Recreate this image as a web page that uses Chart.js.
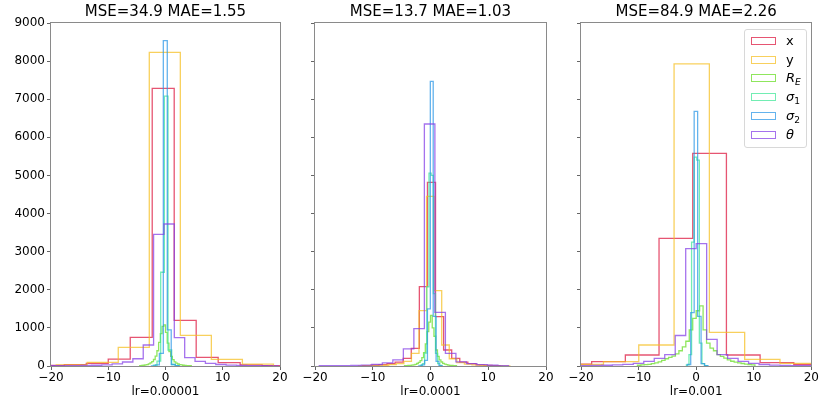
<!DOCTYPE html>
<html>
<head>
<meta charset="utf-8">
<script src="https://cdn.jsdelivr.net/npm/chart.js@4.4.1/dist/chart.umd.min.js"></script>
<style>
  body { margin: 0; background: #fff; font-family: 'DejaVu Sans', sans-serif; }
  #wrap { position: relative; width: 820px; height: 403px; overflow: hidden; }
  .panel { position: absolute; top: 0; }
  .legend {
    position: absolute; left: 744px; top: 29px; width: 61px; height: 117px;
    border: 1px solid #d8d8d8; border-radius: 3px; background: rgba(255,255,255,0.8);
    font-size: 13px; color: #000;
  }
  .legend .row { position: absolute; left: 0; height: 16px; line-height: 16px; }
  .legend .sw { position: absolute; left: 6px; top: 4px; width: 23px; height: 6px; border: 1.3px solid; }
  .legend .lb { position: absolute; left: 41px; top: 0; white-space: nowrap; }
  .legend sub { font-size: 70%; vertical-align: -0.3em; line-height: 0; }
</style>
</head>
<body>
<div id="wrap">
  <div class="panel" style="left:0px"><canvas id="c1" width="290" height="403"></canvas></div>
  <div class="panel" style="left:290px"><canvas id="c2" width="266" height="403"></canvas></div>
  <div class="panel" style="left:556px"><canvas id="c3" width="264" height="403"></canvas></div>
  <div class="legend" id="legend"></div>
</div>
<script>
// titles and axis labels
const panelTitles = ['MSE=34.9 MAE=1.55', 'MSE=13.7 MAE=1.03', 'MSE=84.9 MAE=2.26'];
const panelXLabels = ['lr=0.00001', 'lr=0.0001', 'lr=0.001'];
const xTicks = [-20, -10, 0, 10, 20];
const yTicks = [0, 1000, 2000, 3000, 4000, 5000, 6000, 7000, 8000, 9000];
const seriesNames = ['x', 'y', 'R_E', 'σ1', 'σ2', 'θ'];
const legendLabels = ['x', 'y', '<i>R</i><sub><i>E</i></sub>', '<i>σ</i><sub>1</sub>', '<i>σ</i><sub>2</sub>', '<i>θ</i>'];

// histograms: span = [first bin edge, last bin edge], counts = equal-width bins

// panel 1, lr=0.00001
const p1_x_span = [-21.52, 20.72];
const p1_x_counts = [15, 35, 70, 181, 753, 7285, 1199, 228, 87, 30, 10];
const p1_y_span = [-19.09, 18.85];
const p1_y_counts = [28, 97, 490, 8230, 806, 175, 50];
const p1_re_span = [-4.5, 4.5];
const p1_re_counts = [10, 14, 20, 28, 38, 55, 80, 115, 170, 260, 400, 620, 850, 1040, 1080,
                      880, 600, 380, 250, 165, 110, 75, 52, 38, 28, 20, 15, 11, 8, 6];
const p1_s1_span = [-2.12, 2.36];
const p1_s1_counts = [20, 130, 2460, 7080, 420, 40, 8];
const p1_s2_span = [-2.45, 2.38];
const p1_s2_counts = [5, 30, 330, 8540, 950, 40, 6];
const p1_th_span = [-20.18, 19.64];
const p1_th_counts = [8, 10, 12, 15, 20, 28, 55, 105, 190, 551, 3456, 3726, 743, 218, 120, 70, 40, 25, 15, 10, 6, 4];

// panel 2, lr=0.0001
const p2_x_span = [-11.73, 12.07];
const p2_x_counts = [12, 20, 35, 60, 100, 201, 464, 2081, 4820, 1294, 420, 200, 100, 60, 30, 15, 8];
const p2_y_span = [-12.47, 13.73];
const p2_y_counts = [5, 8, 12, 20, 35, 60, 120, 332, 1452, 4450, 1976, 551, 190, 90, 50, 30, 18, 12, 8, 5];
const p2_re_span = [-4.5, 4.5];
const p2_re_counts = [8, 10, 14, 18, 24, 32, 45, 65, 95, 140, 220, 350, 580, 900, 1150,
                      1330, 1000, 780, 420, 250, 160, 105, 70, 48, 34, 24, 18, 13, 10, 7];
const p2_s1_span = [-1.76, 1.99];
const p2_s1_counts = [20, 60, 340, 2080, 5060, 5000, 1900, 330, 60, 15];
const p2_s2_span = [-2.03, 1.97];
const p2_s2_counts = [5, 30, 150, 1500, 7470, 1300, 120, 10];
const p2_th_span = [-19.26, 13.5];
const p2_th_counts = [10, 10, 12, 18, 25, 40, 80, 160, 450, 980, 6350, 1408, 332, 110, 60, 35, 20, 12];

// panel 3, lr=0.001
const p3_x_span = [-24.0, 22.8];
const p3_x_counts = [50, 113, 289, 3351, 5581, 289, 87, 40];
const p3_y_span = [-22.23, 20.68];
const p3_y_counts = [40, 113, 551, 7925, 884, 175, 70];
const p3_re_span = [-10.2, 10.2];
const p3_re_counts = [20, 28, 35, 45, 60, 80, 110, 150, 190, 225, 260, 320, 400, 500, 650, 950, 1250,
                      1450, 1580, 950, 600, 470, 400, 300, 250, 205, 160, 125, 100, 80, 65, 50, 40, 30];
const p3_s1_span = [-1.7, 1.9];
const p3_s1_counts = [30, 300, 3250, 5480, 5400, 600, 60, 10];
const p3_s2_span = [-1.55, 2.05];
const p3_s2_counts = [40, 1400, 6680, 1300, 60, 8];
const p3_th_span = [-20.02, 20.02];
const p3_th_counts = [12, 15, 20, 30, 45, 70, 120, 200, 300, 800, 3080, 3210, 700, 300, 200, 120, 70, 40, 25, 15, 10, 8];

const panels = [
  [[p1_x_span, p1_x_counts], [p1_y_span, p1_y_counts], [p1_re_span, p1_re_counts],
   [p1_s1_span, p1_s1_counts], [p1_s2_span, p1_s2_counts], [p1_th_span, p1_th_counts]],
  [[p2_x_span, p2_x_counts], [p2_y_span, p2_y_counts], [p2_re_span, p2_re_counts],
   [p2_s1_span, p2_s1_counts], [p2_s2_span, p2_s2_counts], [p2_th_span, p2_th_counts]],
  [[p3_x_span, p3_x_counts], [p3_y_span, p3_y_counts], [p3_re_span, p3_re_counts],
   [p3_s1_span, p3_s1_counts], [p3_s2_span, p3_s2_counts], [p3_th_span, p3_th_counts]]
];

const colors = [
  'rgba(220, 20, 60, 0.72)',
  'rgba(245, 190, 30, 0.72)',
  'rgba(100, 220, 30, 0.72)',
  'rgba(60, 230, 150, 0.72)',
  'rgba(40, 150, 230, 0.72)',
  'rgba(130, 60, 230, 0.72)'
];

// outline of a step histogram, as matplotlib's histtype='step'
function stepPoints(span, counts) {
  const w = (span[1] - span[0]) / counts.length;
  const pts = [{x: span[0], y: 0}];
  counts.forEach((c, i) => pts.push({x: span[0] + i * w, y: c}));
  pts.push({x: span[1], y: 0});
  return pts;
}

const framePlugin = {
  id: 'frame',
  afterDatasetsDraw(chart) {
    const a = chart.chartArea;
    const ctx = chart.ctx;
    ctx.save();
    ctx.strokeStyle = '#8a8a8a';
    ctx.lineWidth = 1;
    ctx.strokeRect(Math.round(a.left) - 0.5, Math.round(a.top) - 0.5,
                   Math.round(a.right - a.left) + 1, Math.round(a.bottom - a.top) + 1);
    ctx.restore();
  }
};

const minus = v => (v < 0 ? '\u2212' + Math.abs(v) : String(v));
const yWidths = [51, 25, 25];
const rightPads = [10, 10, 8];

Chart.defaults.font.family = "'DejaVu Sans', sans-serif";
Chart.defaults.color = '#000';

panels.forEach((series, p) => {
  const ctx = document.getElementById('c' + (p + 1)).getContext('2d');
  new Chart(ctx, {
    type: 'line',
    data: {
      datasets: series.map((s, i) => ({
        label: seriesNames[i],
        data: stepPoints(s[0], s[1]),
        stepped: 'before',
        borderColor: colors[i],
        borderWidth: 1.3,
        pointRadius: 0,
        fill: false,
        order: series.length - 1 - i
      }))
    },
    options: {
      responsive: false,
      animation: false,
      layout: { padding: { left: 0, right: rightPads[p], top: 0, bottom: 0 } },
      plugins: {
        legend: { display: false },
        tooltip: { enabled: false },
        title: {
          display: true,
          text: panelTitles[p],
          fullSize: false,
          color: '#000',
          font: { size: 15, weight: 'normal' },
          padding: { top: 3, bottom: 2 }
        }
      },
      scales: {
        x: {
          type: 'linear',
          min: -20,
          max: 20,
          afterFit: scale => { scale.height = 37; },
          afterBuildTicks: scale => { scale.ticks = xTicks.map(v => ({value: v})); },
          ticks: { font: { size: 12 }, color: '#000', padding: 1, maxRotation: 0, callback: minus },
          grid: { drawOnChartArea: false, drawTicks: true, tickLength: 4, color: '#666' },
          border: { display: false },
          title: { display: true, text: panelXLabels[p], font: { size: 12 }, color: '#000' }
        },
        y: {
          min: 0,
          max: 9000,
          afterFit: scale => { scale.width = yWidths[p]; },
          afterBuildTicks: scale => { scale.ticks = yTicks.map(v => ({value: v})); },
          ticks: { display: p === 0, font: { size: 12 }, color: '#000', padding: 2, callback: v => String(v) },
          grid: { drawOnChartArea: false, drawTicks: true, tickLength: 4, color: '#666' },
          border: { display: false }
        }
      }
    },
    plugins: [framePlugin]
  });
});

// legend (third panel), HTML so the subscripts stay real text
const legend = document.getElementById('legend');
legendLabels.forEach((lab, i) => {
  const row = document.createElement('div');
  row.className = 'row';
  row.style.top = (3 + 18.7 * i) + 'px';
  row.innerHTML = `<span class="sw" style="border-color:${colors[i]}"></span><span class="lb">${lab}</span>`;
  legend.appendChild(row);
});
</script>
</body>
</html>
